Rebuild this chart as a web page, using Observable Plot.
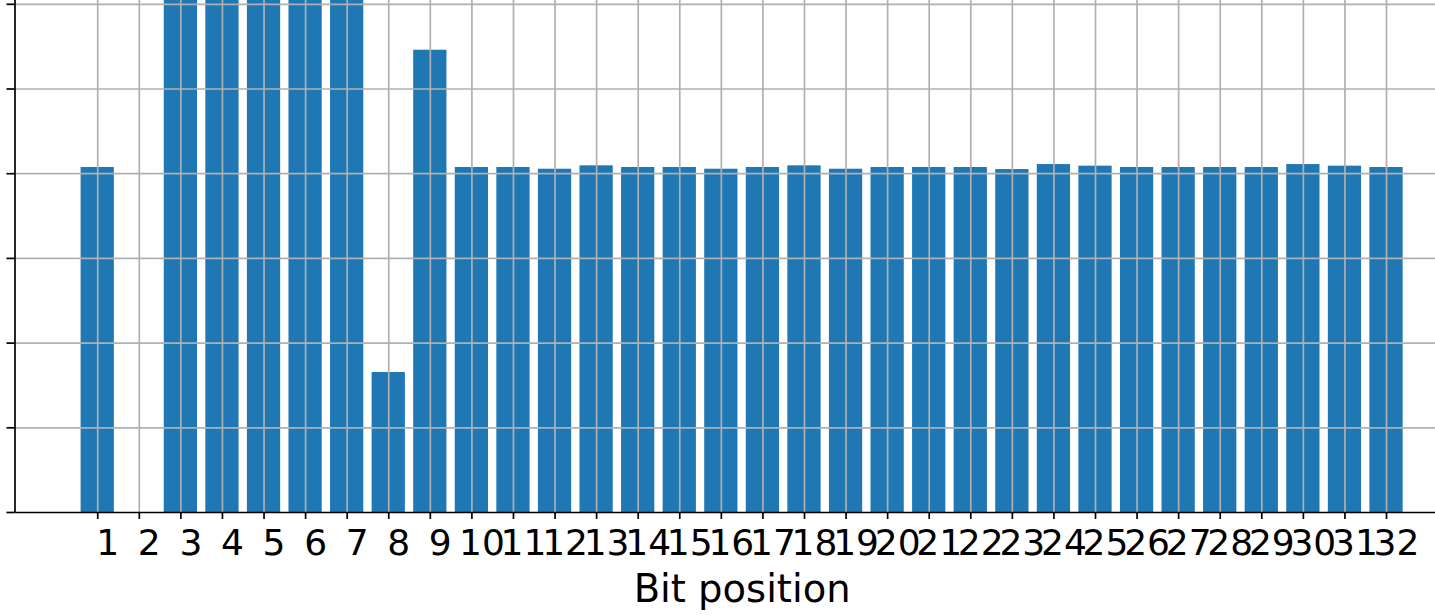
<!DOCTYPE html>
<html><head><meta charset="utf-8">
<script src="https://cdn.jsdelivr.net/npm/d3@7"></script>
<script src="https://cdn.jsdelivr.net/npm/@observablehq/plot@0.6"></script>
<style>html,body{margin:0;padding:0;background:#fff;overflow:hidden}</style>
</head><body><div id="chart"></div>
<script>
// Bit positions (categories) and their tick labels
const bits = [1,2,3,4,5,6,7,8,9,10,11,12,13,14,15,16,17,18,19,20,21,22,23,24,25,26,27,28,29,30,31,32];
const tickLabels = ["1","2","3","4","5","6","7","8","9","10","11","12","13","14","15","16","17","18","19","20","21","22","23","24","25","26","27","28","29","30","31","32"];
// Bar heights in y-tick units (bars 3-7 run past the top of the visible area)
const values = [4.073, 0, 8.2, 8.2, 8.2, 8.2, 8.2, 1.653, 5.458,
  4.073, 4.073, 4.053, 4.093, 4.073, 4.073, 4.053, 4.073, 4.093, 4.053, 4.073,
  4.073, 4.073, 4.049, 4.108, 4.089, 4.073, 4.073, 4.073, 4.073, 4.108, 4.089, 4.073];
const yTicks = [0, 1, 2, 3, 4, 5, 6];
const xLabel = "Bit position";
const xDomain = [-0.99, 33.99];
const yDomain = [0, 6.045];
const barWidth = 0.8;

const data = bits.map((b, i) => ({bit: b, label: tickLabels[i], value: values[i]}));

const chart = Plot.plot({
  width: 1435, height: 615,
  marginLeft: 14.5, marginRight: 0, marginTop: 0, marginBottom: 103,
  style: {fontFamily: "DejaVu Sans", background: "#fff", overflow: "hidden"},
  x: {type: "linear", domain: xDomain, range: [14.5, 14.5 + 35 * 41.55]},
  y: {domain: yDomain, range: [512, 0]},
  marks: [
    Plot.rectY(data, {x1: d => d.bit - barWidth / 2, x2: d => d.bit + barWidth / 2, y1: 0, y2: "value", fill: "#1f77b4", clip: true}),
    Plot.gridX({ticks: bits, stroke: "#b0b0b0", strokeOpacity: 1, strokeWidth: 1.7, clip: true}),
    Plot.gridY({ticks: yTicks.slice(1), stroke: "#b0b0b0", strokeOpacity: 1, strokeWidth: 1.7}),
    Plot.ruleY([yDomain[0]], {stroke: "#000", strokeWidth: 1.7}),
    Plot.ruleX([xDomain[0]], {stroke: "#000", strokeWidth: 1.7}),
    Plot.axisY({ticks: yTicks, tickSize: 8, tickFormat: () => "", label: null, strokeWidth: 1.7}),
    Plot.axisX({ticks: bits, tickSize: 7, tickFormat: () => "", label: null, strokeWidth: 1.7}),
    Plot.text(data, {x: "bit", text: "label", frameAnchor: "bottom", lineAnchor: "top", dy: 17, dx: 10, fontSize: 36, fill: "#000", fontFamily: "DejaVu Sans"}),
    Plot.text([xLabel], {x: d3.mean(xDomain), text: d => d, frameAnchor: "bottom", lineAnchor: "top", dy: 62, fontSize: 38.5, fill: "#000", fontFamily: "DejaVu Sans"})
  ]
});
document.getElementById("chart").appendChild(chart);
</script>
</body></html>
